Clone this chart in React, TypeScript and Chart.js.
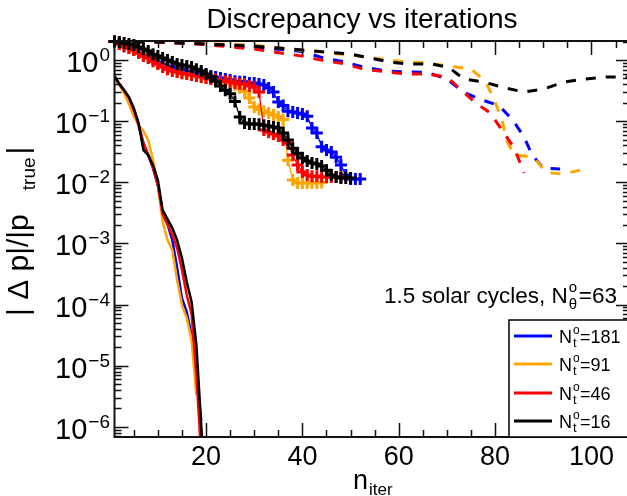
import React, { useEffect, useRef } from 'react';
import { Chart, registerables } from 'chart.js';

Chart.register(...registerables);

const FONT = '"Liberation Sans", Arial, Helvetica, sans-serif';

// ---------- axis definitions ----------
const xMin = 1;
const xMax = 108;
const yMin = 6.8e-7;
const yMax = 2.05;
const xTickLabels = [20, 40, 60, 80, 100];
const yTickExponents = [0, -1, -2, -3, -4, -5, -6];

// ---------- colours / legend ----------
const seriesColors = ['#0000ff', '#ffa500', '#ff0000', '#000000'];
const legendNt = ['181', '91', '46', '16'];

// ---------- solid curves (n = 1, 2, 3, ...) ----------
const solidBlue = [0.547, 0.405, 0.311, 0.239, 0.152, 0.0863, 0.0438, 0.0279, 0.0171, 0.009, 0.00302, 0.00207, 0.00113, 0.0004, 0.000127, 7.5e-5, 3.16e-5, 7.0e-6, 1.28e-6];
const solidOrange = [0.507, 0.39, 0.29, 0.19, 0.121, 0.0863, 0.0689, 0.049, 0.023, 0.009, 0.00223, 0.00113, 0.000776, 0.000251, 9.8e-5, 5.99e-5, 2.61e-5, 3.29e-6];
const solidRed = [0.547, 0.405, 0.311, 0.239, 0.152, 0.0863, 0.0438, 0.0279, 0.0171, 0.009, 0.00302, 0.00207, 0.00137, 0.000838, 0.000366, 0.000143, 6.97e-5, 7.0e-6, 3.4e-7];
const solidBlack = [0.547, 0.405, 0.323, 0.248, 0.164, 0.093, 0.0337, 0.0279, 0.0191, 0.0109, 0.0035, 0.0025, 0.00178, 0.00113, 0.000574, 0.000233, 0.00011, 2.17e-5, 1.06e-6, 5e-8];

// ---------- "+" marked curves (n = 1, 2, 3, ...) ----------
const plusBlue = [2.01, 1.83, 1.69, 1.57, 1.46, 1.3, 1.21, 1.12, 1.04, 0.93, 0.86, 0.8, 0.77, 0.74, 0.71, 0.66, 0.64, 0.61, 0.59, 0.57, 0.55, 0.53, 0.51, 0.49, 0.47, 0.45, 0.44, 0.44, 0.42, 0.42, 0.405, 0.39, 0.35, 0.3, 0.205, 0.18, 0.146, 0.141, 0.136, 0.131, 0.12, 0.077, 0.064, 0.038, 0.0337, 0.0312, 0.0258, 0.0191, 0.0131, 0.0113, 0.0113, 0.0113];
const plusOrange = [2.01, 1.83, 1.69, 1.57, 1.46, 1.3, 1.16, 1.08, 0.96, 0.86, 0.77, 0.71, 0.66, 0.64, 0.61, 0.59, 0.57, 0.55, 0.53, 0.51, 0.49, 0.47, 0.45, 0.43, 0.42, 0.39, 0.35, 0.31, 0.24, 0.17, 0.155, 0.145, 0.136, 0.126, 0.117, 0.107, 0.023, 0.0109, 0.0097, 0.0097, 0.0097, 0.0097, 0.0097, 0.0099];
const plusRed = [2.01, 1.83, 1.69, 1.57, 1.46, 1.3, 1.16, 1.08, 0.96, 0.86, 0.77, 0.71, 0.66, 0.64, 0.61, 0.59, 0.57, 0.55, 0.53, 0.51, 0.49, 0.47, 0.45, 0.45, 0.44, 0.42, 0.405, 0.405, 0.375, 0.36, 0.3, 0.0715, 0.066, 0.0615, 0.057, 0.049, 0.044, 0.028, 0.0191, 0.0147, 0.0131, 0.0126, 0.0126, 0.0122, 0.0122, 0.0122, 0.0122, 0.0122];
const plusBlack = [2.01, 1.97, 1.9, 1.83, 1.76, 1.63, 1.51, 1.4, 1.25, 1.16, 1.08, 1.0, 0.93, 0.86, 0.83, 0.8, 0.77, 0.71, 0.66, 0.59, 0.53, 0.45, 0.375, 0.32, 0.28, 0.21, 0.117, 0.093, 0.09, 0.09, 0.089, 0.086, 0.083, 0.08, 0.077, 0.064, 0.049, 0.036, 0.03, 0.0249, 0.0222, 0.0206, 0.0199, 0.0184, 0.0158, 0.0131, 0.0122, 0.0117, 0.0117, 0.0117];

// ---------- dashed curves (iteration, value) ----------
const dashBlueN = [1, 10, 20, 30, 40, 44.4, 48.5, 52.6, 57.6, 61.8, 66, 70, 73.4, 76.7, 80.8, 83.7, 86, 87.7, 90, 93.5];
const dashBlueV = [2.01, 1.97, 1.83, 1.63, 1.38, 1.08, 0.945, 0.77, 0.66, 0.64, 0.625, 0.49, 0.3, 0.23, 0.18, 0.104, 0.055, 0.028, 0.017, 0.0165];
const dashOrangeN = [1, 10, 20, 30, 40, 46, 53.5, 60, 66, 71.5, 75, 78, 80, 81.5, 82.2, 84, 88, 90.5, 94, 98.5];
const dashOrangeV = [2.01, 1.97, 1.86, 1.76, 1.43, 1.3, 1.12, 0.96, 0.89, 0.78, 0.71, 0.45, 0.205, 0.104, 0.051, 0.028, 0.0258, 0.0147, 0.0136, 0.0164];
const dashRedN = [1, 10, 20, 30, 40, 44.4, 48.5, 52.6, 57.6, 61.8, 66, 70, 73, 76, 79, 81, 84, 86];
const dashRedV = [2.01, 1.97, 1.79, 1.51, 1.16, 0.98, 0.877, 0.71, 0.64, 0.59, 0.59, 0.53, 0.32, 0.198, 0.136, 0.08, 0.036, 0.0142];
const dashBlackN = [1, 10, 20, 30, 40, 50, 54, 58, 62, 67, 70.5, 73.5, 77.5, 82, 86, 90, 94.5, 98.7, 103, 108];
const dashBlackV = [2.01, 1.97, 1.83, 1.69, 1.46, 1.25, 1.08, 0.93, 0.86, 0.86, 0.75, 0.49, 0.44, 0.35, 0.3, 0.335, 0.44, 0.49, 0.53, 0.53];

const byIter = (vals: number[]) => vals.map((v, i) => ({ x: i + 1, y: v }));
const byPairs = (ns: number[], vals: number[]) => vals.map((v, i) => ({ x: ns[i], y: v }));

function drawText(ctx: CanvasRenderingContext2D, s: string, x: number, y: number, size: number, align: CanvasTextAlign = 'left') {
  ctx.font = `${size}px ${FONT}`;
  ctx.textAlign = align;
  ctx.textBaseline = 'alphabetic';
  ctx.fillText(s, x, y);
  return ctx.measureText(s).width;
}

const framePlugin = {
  id: 'idlFrame',
  afterDatasetsDraw(chart: any) {
    const { ctx, chartArea: a } = chart;
    const xs = chart.scales.x;
    const ys = chart.scales.y;
    ctx.save();
    ctx.fillStyle = '#000';
    ctx.strokeStyle = '#111';
    ctx.lineWidth = 2;
    ctx.strokeRect(a.left, a.top, a.right - a.left, a.bottom - a.top);

    // x ticks (bottom + top)
    ctx.lineWidth = 1.5;
    for (let v = 5; v < xMax; v += 5) {
      const px = Math.round(xs.getPixelForValue(v)) + 0.5;
      const len = v % 20 === 0 ? 14 : 7;
      ctx.beginPath();
      ctx.moveTo(px, a.bottom); ctx.lineTo(px, a.bottom - len);
      ctx.moveTo(px, a.top); ctx.lineTo(px, a.top + len);
      ctx.stroke();
    }
    // y ticks (left + right)
    for (let e = -7; e <= 0; e++) {
      for (let m = 1; m <= 9; m++) {
        const v = m * Math.pow(10, e);
        if (v < yMin || v > yMax) continue;
        const py = Math.round(ys.getPixelForValue(v)) + 0.5;
        const len = m === 1 ? 14 : 7;
        ctx.beginPath();
        ctx.moveTo(a.left, py); ctx.lineTo(a.left + len, py);
        ctx.moveTo(a.right, py); ctx.lineTo(a.right - len, py);
        ctx.stroke();
      }
    }

    // x tick labels
    xTickLabels.forEach((v) => {
      drawText(ctx, String(v), xs.getPixelForValue(v), a.bottom + 28, 27, 'center');
    });
    // y tick labels 10^e
    yTickExponents.forEach((e) => {
      const py = ys.getPixelForValue(Math.pow(10, e));
      const expStr = e === 0 ? '0' : '\u2212' + String(-e);
      ctx.font = `19px ${FONT}`;
      const ew = ctx.measureText(expStr).width;
      const right = 110;
      drawText(ctx, expStr, right - ew, py + 1, 19);
      drawText(ctx, '10', right - ew - 1, py + 12, 29, 'right');
    });

    // title
    drawText(ctx, 'Discrepancy vs iterations', 362, 28, 28, 'center');

    // x axis title
    const nw = drawText(ctx, 'n', 353, 489, 27);
    drawText(ctx, 'iter', 353 + nw + 1, 495, 17);

    // y axis title (rotated)
    ctx.save();
    ctx.translate(28, 316);
    ctx.rotate(-Math.PI / 2);
    const w1 = drawText(ctx, '| \u0394 p|/|p', 0, 0, 30);
    const w2 = drawText(ctx, 'true', w1 + 24, 7, 19);
    drawText(ctx, '|', w1 + 24 + w2 + 3, 0, 30);
    ctx.restore();

    // annotation
    let ax = 384;
    ax += drawText(ctx, '1.5 solar cycles, N', ax, 303, 22.5);
    drawText(ctx, 'o', ax + 1, 292, 15);
    drawText(ctx, '\u03b8', ax + 1, 309, 15);
    drawText(ctx, '=63', ax + 11, 303, 22.5);

    // legend
    ctx.fillStyle = '#fff';
    ctx.fillRect(509, 320, a.right - 509, a.bottom - 320);
    ctx.strokeStyle = '#000';
    ctx.lineWidth = 1.5;
    ctx.strokeRect(509, 320, a.right - 509, a.bottom - 320);
    const rowY = [336, 364, 393, 421];
    legendNt.forEach((nt, i) => {
      const yy = rowY[i];
      ctx.strokeStyle = seriesColors[i];
      ctx.lineWidth = 3;
      ctx.beginPath();
      ctx.moveTo(514, yy); ctx.lineTo(552, yy);
      ctx.stroke();
      ctx.fillStyle = '#000';
      const w = drawText(ctx, 'N', 559, yy + 7, 18);
      drawText(ctx, 'o', 559 + w + 1, yy - 2, 12);
      drawText(ctx, 't', 559 + w + 1, yy + 11, 13);
      drawText(ctx, '=' + nt, 559 + w + 8, yy + 7, 18);
    });
    ctx.restore();
  },
};

export default function App() {
  const canvasRef = useRef<HTMLCanvasElement | null>(null);

  useEffect(() => {
    const canvas = canvasRef.current;
    if (!canvas) return;
    const solid = [solidBlue, solidOrange, solidRed, solidBlack];
    const plus = [plusBlue, plusOrange, plusRed, plusBlack];
    const dashed = [
      byPairs(dashBlueN, dashBlueV),
      byPairs(dashOrangeN, dashOrangeV),
      byPairs(dashRedN, dashRedV),
      byPairs(dashBlackN, dashBlackV),
    ];
    const datasets: any[] = [];
    seriesColors.forEach((c, i) => {
      const order = 3 - i;
      datasets.push({
        data: byIter(solid[i]), borderColor: c, backgroundColor: c,
        borderWidth: 2.5, pointRadius: 0, fill: false, order, clip: 0,
      });
      datasets.push({
        data: byIter(plus[i]), borderColor: c, backgroundColor: c,
        borderWidth: 1.3, pointStyle: 'cross', pointRadius: 6, pointBorderWidth: 3,
        pointBorderColor: c, fill: false, order, clip: false,
      });
      datasets.push({
        data: dashed[i], borderColor: c, backgroundColor: c,
        borderWidth: 3, borderDash: [10, 10], pointRadius: 0, fill: false, order, clip: 0,
      });
    });

    const chart = new Chart(canvas, {
      type: 'line',
      data: { datasets },
      options: {
        animation: false,
        responsive: false,
        devicePixelRatio: 1,
        layout: { padding: { left: 114.5, top: 41, right: 10, bottom: 59 } },
        plugins: { legend: { display: false }, tooltip: { enabled: false }, title: { display: false } },
        scales: {
          x: { type: 'linear', min: xMin, max: xMax, bounds: 'data', display: false },
          y: { type: 'logarithmic', min: yMin, max: yMax, bounds: 'data', display: false },
        },
      },
      plugins: [framePlugin],
    });
    return () => chart.destroy();
  }, []);

  return (
    <div style={{ position: 'fixed', left: 0, top: 0, width: 640, height: 496, background: '#fff' }}>
      <canvas ref={canvasRef} width={640} height={496} style={{ width: 640, height: 496, display: 'block' }} />
    </div>
  );
}
